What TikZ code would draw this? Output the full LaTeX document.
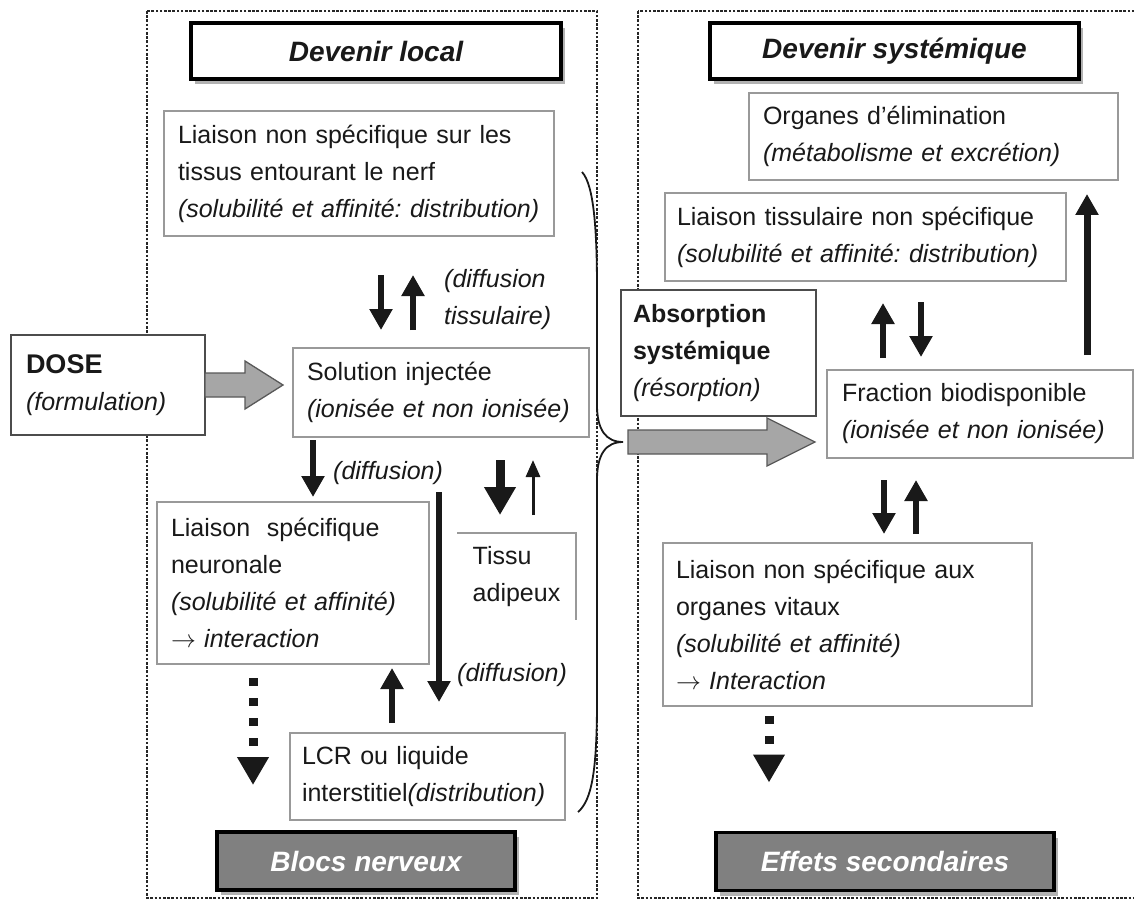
\documentclass[tikz,border=0pt]{standalone}
\usepackage{fontspec}
\setmainfont{Liberation Sans}
\usetikzlibrary{arrows.meta,calc,shadows}

\frenchspacing
\hyphenpenalty=10000
\newcommand{\fs}{\fontsize{25}{37}\selectfont}
\newcommand{\ft}{\fontsize{28}{34}\selectfont\bfseries\itshape}

\tikzset{
    boxline/.style={draw=black!40, line width=1.3pt},
    txtbox/.style={boxline, fill=white, anchor=north west, align=left,
        inner xsep=12pt, inner ysep=0pt, outer sep=0pt, font=\fs, text=black!90},
    strongbox/.style={txtbox, draw=black!70, line width=2.5pt},
    titlebox/.style={draw=black, line width=3.5pt, fill=white, font=\ft,
        minimum height=56pt, outer sep=0pt, text=black!90,
        drop shadow={shadow xshift=4pt, shadow yshift=-5pt, fill=black, opacity=0.3}},
    blockbox/.style={titlebox, fill=black!50, text=white, minimum height=58pt},
    panel/.style={draw=black!85, line width=2.6pt, dash pattern=on 2.6pt off 1.6pt},
    flow/.style={draw=black!90, line width=6pt, -{Triangle[width=22pt,length=21pt]}},
    dotflow/.style={draw=black!90, line width=9pt, dash pattern=on 8pt off 12pt,
        -{Triangle[width=30pt,length=28pt]}},
    bigarrow/.style={fill=black!35, draw=black!65, line width=1.3pt, line join=miter},
    lbl/.style={font=\fs\itshape, text=black!90, anchor=west, inner sep=0pt, align=left}
}

\begin{document}
\begin{tikzpicture}[x=1pt, y=-1pt]
    % Frame
    \clip (0,0) rectangle (1134,901);
    \fill[white] (0,0) rectangle (1134,901);

    % Dotted panels
    \draw[panel] (147,11) rectangle (597,898);
    \draw[panel] (638,11) rectangle (1150,898);

    % Titles
    \node[titlebox, minimum width=370pt] (local) at (376,51) {Devenir local};
    \node[titlebox, minimum width=369pt] (syst) at (894.5,51) {Devenir systémique};
    \node[blockbox, minimum width=298pt] (blocs) at (366,861) {Blocs nerveux};
    \node[blockbox, minimum width=338pt] (effets) at (885,861.5) {Effets secondaires};

    % Local boxes
    \node[txtbox, inner xsep=14pt, text width=362pt, minimum height=125pt] (tissus) at (164,111)
        {Liaison non spécifique sur les\\ tissus entourant le nerf\\ \textit{(solubilité et affinité: distribution)}};
    \node[strongbox, inner xsep=15pt, text width=164pt, minimum height=100pt] (dose) at (11,335)
        {{\fontsize{27}{37}\selectfont\bfseries DOSE}\\ \textit{(formulation)}};
    \node[txtbox, inner xsep=14pt, text width=268pt, minimum height=89pt] (solution) at (293,348)
        {Solution injectée\\ \textit{(ionisée et non ionisée)}};
    \node[txtbox, inner xsep=14pt, text width=244pt, minimum height=162pt] (neuro) at (157,502)
        {Liaison\ \ spécifique\\ neuronale\\ \textit{(solubilité et affinité)}\\ $\rightarrow$ \textit{interaction}};
    \node[anchor=north west, minimum width=119pt, minimum height=87pt, align=left,
        inner sep=0pt, outer sep=0pt, font=\fs, text=black!90] (adipeux) at (457,533) {Tissu\\ adipeux};
    \draw[boxline] (adipeux.north west) -- (adipeux.north east) -- (adipeux.south east);
    \node[txtbox, text width=251pt, minimum height=87pt] (lcr) at (290,733)
        {LCR ou liquide\\ interstitiel\textit{(distribution)}};

    % Systemic boxes
    \node[txtbox, inner xsep=14pt, text width=341pt, minimum height=87pt] (organes) at (749,93)
        {Organes d’élimination\\ \textit{(métabolisme et excrétion)}};
    \node[txtbox, text width=377pt, minimum height=88pt] (tissu2) at (665,193)
        {Liaison tissulaire non spécifique\\ \textit{(solubilité et affinité: distribution)}};
    \node[strongbox, line width=2pt, text width=171pt, minimum height=126pt] (absorption) at (621,290)
        {\textbf{Absorption}\\ \textbf{systémique}\\ \textit{(résorption)}};
    \node[txtbox, inner xsep=15pt, text width=276pt, minimum height=88pt] (fraction) at (827,370)
        {Fraction biodisponible\\ \textit{(ionisée et non ionisée)}};
    \node[txtbox, inner xsep=13pt, text width=343pt, minimum height=163pt] (vitaux) at (663,543)
        {Liaison non spécifique aux\\ organes vitaux\\ \textit{(solubilité et affinité)}\\ $\rightarrow$ \textit{Interaction}};

    % Arrow columns
    \coordinate (k1) at (381,0);
    \coordinate (k2) at (413,0);
    \coordinate (k3) at (313,0);
    \coordinate (k4) at (439,0);
    \coordinate (k5) at (500,0);
    \coordinate (k6) at (533,0);
    \coordinate (k7) at (392,0);
    \coordinate (k8) at (253,0);
    \coordinate (k9) at (883,0);
    \coordinate (k10) at (921,0);
    \coordinate (k11) at (1087,0);
    \coordinate (k12) at (884,0);
    \coordinate (k13) at (916,0);
    \coordinate (k14) at (769,0);

    % Local arrows
    \draw[flow, shorten <=39pt, shorten >=18pt] (tissus.south -| k1) -- (solution.north -| k1);
    \draw[flow, shorten <=18pt, shorten >=39pt] (solution.north -| k2) -- (tissus.south -| k2);
    \draw[flow, shorten <=3pt, shorten >=5pt] (solution.south -| k3) -- (neuro.north -| k3);
    \draw[flow, line width=5.5pt, shorten <=55pt, shorten >=31pt] (solution.south -| k4) -- (lcr.north -| k4);
    \draw[flow, line width=9pt, -{Triangle[width=30pt,length=28pt]}, shorten <=23pt, shorten >=18pt]
        (solution.south -| k5) -- (adipeux.north -| k5);
    \draw[flow, line width=3pt, -{Triangle[width=14pt,length=17pt]}, shorten <=18pt, shorten >=23pt]
        (adipeux.north -| k6) -- (solution.south -| k6);
    \draw[flow, shorten <=10pt, shorten >=4pt] (lcr.north -| k7) -- (neuro.south -| k7);
    \draw[dotflow, shorten <=14pt, shorten >=47pt] (neuro.south -| k8) -- (blocs.north -| k8);

    % Systemic arrows
    \draw[flow, shorten <=12pt, shorten >=22pt] (fraction.north -| k9) -- (tissu2.south -| k9);
    \draw[flow, shorten <=21pt, shorten >=13pt] (tissu2.south -| k10) -- (fraction.north -| k10);
    \draw[flow, line width=7pt, shorten <=15pt, shorten >=14pt] (fraction.north -| k11) -- (organes.south -| k11);
    \draw[flow, shorten <=22pt, shorten >=9pt] (fraction.south -| k12) -- (vitaux.north -| k12);
    \draw[flow, shorten <=9pt, shorten >=22pt] (vitaux.north -| k13) -- (fraction.south -| k13);
    \draw[dotflow, shorten <=10pt, shorten >=50pt] (vitaux.south -| k14) -- (effets.north -| k14);

    % Labels
    \node[lbl] (difftis) at (444,300) {(diffusion\\ tissulaire)};
    \node[lbl] (diff1) at (333,473) {(diffusion)};
    \node[lbl] (diff2) at (457,675) {(diffusion)};

    % Brace
    \coordinate (tip) at (623,442);
    \draw[line width=1.8pt, black!90] (582,172) .. controls (594,185) and (597,230) .. (597,290)
        -- (597,405) .. controls (597,430) and (606,442) .. (tip)
        .. controls (606,442) and (597,454) .. (597,480)
        -- (597,700) .. controls (597,770) and (592,800) .. (578,812);

    % Wide gray arrows
    \draw[bigarrow] ($(dose.east)+(0,-12)$) -- ++(40,0) -- ++(0,-12) -- ++(38,24)
        -- ++(-38,24) -- ++(0,-12) -- ++(-40,0) -- cycle;
    \draw[bigarrow] ($(tip)+(5,-12)$) -- ++(139,0) -- ++(0,-12) -- ++(48,24)
        -- ++(-48,24) -- ++(0,-12) -- ++(-139,0) -- cycle;
\end{tikzpicture}
\end{document}
